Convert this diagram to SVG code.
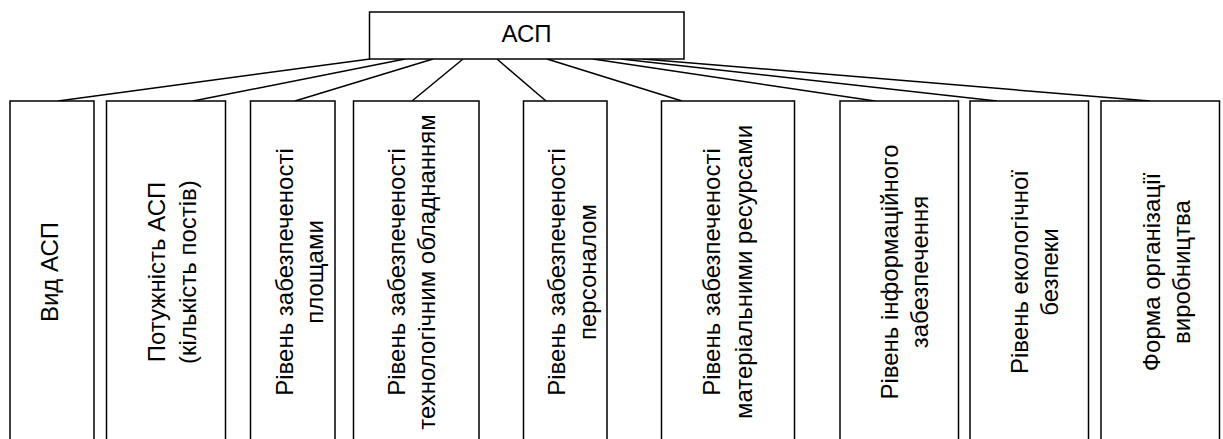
<svg xmlns="http://www.w3.org/2000/svg" width="1223" height="439" viewBox="0 0 1223 439">
<style>
.box{fill:#fff;stroke:#000;stroke-width:1.5}
.con line{stroke:#000;stroke-width:1.5}
.t{font-family:"Liberation Sans",Arial,sans-serif;font-size:24px;fill:#000;text-anchor:middle}
</style>
<rect width="1223" height="439" fill="#fff"/>
<g id="connectors" class="con">
<line x1="370" y1="59" x2="58" y2="101"/>
<line x1="405" y1="59" x2="193" y2="101"/>
<line x1="433" y1="59" x2="295" y2="101"/>
<line x1="463" y1="59" x2="412" y2="101"/>
<line x1="497" y1="59" x2="546" y2="101"/>
<line x1="547" y1="59" x2="682" y2="101"/>
<line x1="593" y1="59" x2="875" y2="101"/>
<line x1="621" y1="59" x2="997" y2="101"/>
<line x1="643" y1="59" x2="1150" y2="101"/>
</g>
<g id="root">
<rect class="box" x="369.5" y="12" width="314.5" height="47"/>
<text class="t" x="526.5" y="42">АСП</text>
</g>
<g id="n1">
<rect class="box" x="10" y="101" width="84" height="345"/>
<text class="t" transform="translate(58,272) rotate(-90)">Вид АСП</text>
</g>
<g id="n2">
<rect class="box" x="106.5" y="101" width="119" height="345"/>
<text class="t" transform="translate(165,272) rotate(-90)"><tspan x="0" y="0">Потужність АСП</tspan><tspan x="0" y="31">(кількість постів)</tspan></text>
</g>
<g id="n3">
<rect class="box" x="250.5" y="101" width="84.5" height="345"/>
<text class="t" transform="translate(293,272) rotate(-90)"><tspan x="0" y="0">Рівень забезпеченості</tspan><tspan x="0" y="30">площами</tspan></text>
</g>
<g id="n4">
<rect class="box" x="353.5" y="101" width="125.5" height="345"/>
<text class="t" transform="translate(405,272) rotate(-90)"><tspan x="0" y="0">Рівень забезпеченості</tspan><tspan x="0" y="30">технологічним обладнанням</tspan></text>
</g>
<g id="n5">
<rect class="box" x="523.5" y="101" width="83.5" height="345"/>
<text class="t" transform="translate(565,272) rotate(-90)"><tspan x="0" y="0">Рівень забезпеченості</tspan><tspan x="0" y="31">персоналом</tspan></text>
</g>
<g id="n6">
<rect class="box" x="661.5" y="101" width="133" height="345"/>
<text class="t" transform="translate(720,272) rotate(-90)"><tspan x="0" y="0">Рівень забезпеченості</tspan><tspan x="0" y="32">матеріальними ресурсами</tspan></text>
</g>
<g id="n7">
<rect class="box" x="840" y="101" width="118.5" height="345"/>
<text class="t" transform="translate(898,272) rotate(-90)"><tspan x="0" y="0">Рівень інформаційного</tspan><tspan x="0" y="30">забезпечення</tspan></text>
</g>
<g id="n8">
<rect class="box" x="970" y="101" width="118.5" height="345"/>
<text class="t" transform="translate(1028,272) rotate(-90)"><tspan x="0" y="0">Рівень екологічної</tspan><tspan x="0" y="30">безпеки</tspan></text>
</g>
<g id="n9">
<rect class="box" x="1101" y="101" width="118.5" height="345"/>
<text class="t" transform="translate(1160,272) rotate(-90)"><tspan x="0" y="0">Форма організації</tspan><tspan x="0" y="30">виробництва</tspan></text>
</g>
</svg>
